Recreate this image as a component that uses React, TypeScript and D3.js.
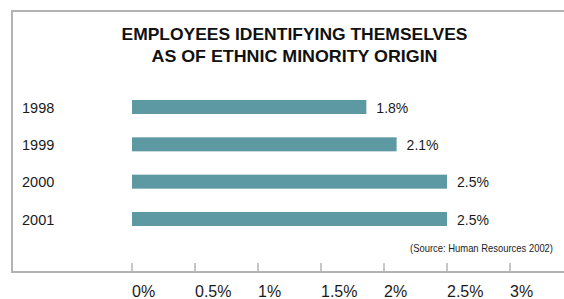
import React from 'react';
import * as d3 from 'd3';

const years = ['1998', '1999', '2000', '2001'];
// bar lengths as drawn in the picture
const shares = [1.86, 2.1, 2.5, 2.5];
const valueLabels = ['1.8%', '2.1%', '2.5%', '2.5%'];
const tickValues = [0, 0.5, 1, 1.5, 2, 2.5, 3];
const tickLabels = ['0%', '0.5%', '1%', '1.5%', '2%', '2.5%', '3%'];
const titleLines = ['EMPLOYEES IDENTIFYING THEMSELVES', 'AS OF ETHNIC MINORITY ORIGIN'];
const source = '(Source: Human Resources 2002)';

const W = 564;
const H = 299;
const font = '"Liberation Sans", Arial, Helvetica, sans-serif';
const titleWidths = [346, 286];

export default function App() {
  const x = d3.scaleLinear().domain([0, 3]).range([132, 510]);
  const y = d3.scaleBand<string>()
    .domain(years)
    .range([100, 226])
    .paddingInner(0.625)
    .paddingOuter(0);

  return (
    <svg width={W} height={H} style={{ position: 'absolute', left: 0, top: 0 }} fontFamily={font}>
      <rect x={0} y={0} width={W} height={H} fill="#fff" />
      {/* frame, right edge runs off the page */}
      <rect x={12} y={11} width={W + 20} height={261} fill="none" stroke="#b3b3b3" strokeWidth={2} />

      {titleLines.map((t, i) => (
        <text
          key={t}
          x={294.5}
          y={40 + i * 22}
          textAnchor="middle"
          fontSize={16.5}
          fontWeight="bold"
          fill="#111"
          textLength={titleWidths[i]}
          lengthAdjust="spacingAndGlyphs"
        >
          {t}
        </text>
      ))}

      {years.map((yr, i) => (
        <g key={yr}>
          <text x={22} y={(y(yr) as number) + 12.5} fontSize={14.5} fill="#1a1a1a">{yr}</text>
          <rect
            x={x(0)}
            y={y(yr)}
            width={x(shares[i]) - x(0)}
            height={y.bandwidth()}
            fill="#5d99a3"
          />
          <text x={x(shares[i]) + 10} y={(y(yr) as number) + 12.5} fontSize={14} fill="#1a1a1a">
            {valueLabels[i]}
          </text>
        </g>
      ))}

      <text
        x={553}
        y={252}
        textAnchor="end"
        fontSize={11.5}
        fill="#222"
        textLength={143}
        lengthAdjust="spacingAndGlyphs"
      >
        {source}
      </text>

      {tickValues.map((v, i) => (
        <g key={v}>
          <line x1={x(v)} x2={x(v)} y1={263} y2={271} stroke="#b3b3b3" strokeWidth={1.5} />
          <text x={x(v)} y={296.5} fontSize={16} fill="#1a1a1a">{tickLabels[i]}</text>
        </g>
      ))}
    </svg>
  );
}
